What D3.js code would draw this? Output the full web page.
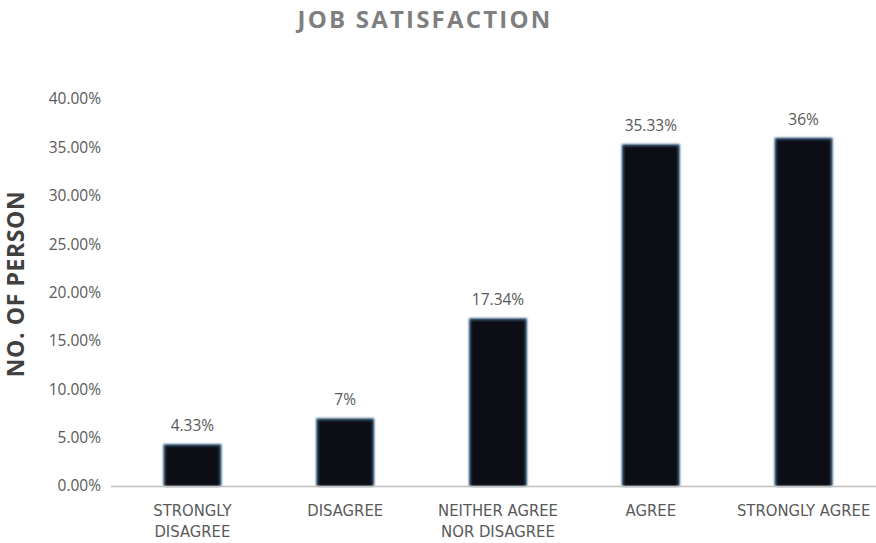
<!DOCTYPE html>
<html>
<head>
<meta charset="utf-8">
<script src="https://cdn.jsdelivr.net/npm/d3@7"></script>
<style>
  html, body { margin: 0; padding: 0; background: #ffffff; }
  svg { display: block; }
</style>
</head>
<body>
<svg id="chart" width="876" height="543"></svg>
<script>
// Job satisfaction survey responses (share of respondents)
const categories = [
  ["STRONGLY", "DISAGREE"],
  ["DISAGREE"],
  ["NEITHER AGREE", "NOR DISAGREE"],
  ["AGREE"],
  ["STRONGLY AGREE"]
];
const values = [4.33, 7, 17.34, 35.33, 36];
const valueLabels = ["4.33%", "7%", "17.34%", "35.33%", "36%"];
const yTicks = [0, 5, 10, 15, 20, 25, 30, 35, 40];

const svg = d3.select("#chart");
const W = 876, H = 543;
const plot = { left: 116, right: 880, top: 99, bottom: 486 };

const keys = categories.map((c, i) => i);
const x = d3.scaleBand().domain(keys).range([plot.left, plot.right]).paddingInner(0.62).paddingOuter(0.31);
const y = d3.scaleLinear().domain([0, 40]).range([plot.bottom, plot.top]);

// soft blue edge on the bars
const defs = svg.append("defs");
const glow = defs.append("filter").attr("id", "edge").attr("x", "-10%").attr("y", "-10%").attr("width", "120%").attr("height", "120%");
glow.append("feGaussianBlur").attr("stdDeviation", 0.9);

// title
svg.append("text")
  .attr("x", 425).attr("y", 28)
  .attr("text-anchor", "middle")
  .attr("font-family", "Open Sans, sans-serif")
  .attr("font-weight", 700)
  .attr("font-size", 24)
  .attr("letter-spacing", 2.2)
  .attr("fill", "#7f7f7f")
  .text("JOB SATISFACTION");

// y axis title
svg.append("text")
  .attr("transform", `translate(24,284) rotate(-90)`)
  .attr("text-anchor", "middle")
  .attr("font-family", "Open Sans, sans-serif")
  .attr("font-weight", 700)
  .attr("font-size", 23)
  .attr("letter-spacing", 0.6)
  .attr("fill", "#404040")
  .text("NO. OF PERSON");

// y axis: labels only
const yAxis = d3.axisLeft(y).tickValues(yTicks).tickSize(0).tickPadding(0)
  .tickFormat(d => d3.format(".2f")(d) + "%");
const gy = svg.append("g").attr("transform", "translate(101,0)").call(yAxis);
gy.select(".domain").remove();
gy.selectAll("text")
  .attr("font-family", "Open Sans, sans-serif")
  .attr("font-size", 15.5)
  .attr("fill", "#595959");

// bars
const bars = svg.append("g");
bars.selectAll("rect.glow")
  .data(values)
  .join("rect")
  .attr("class", "glow")
  .attr("x", (d, i) => x(i))
  .attr("y", d => y(d))
  .attr("width", x.bandwidth())
  .attr("height", d => y(0) - y(d))
  .attr("fill", "#2f5478")
  .attr("filter", "url(#edge)");
bars.selectAll("rect.bar")
  .data(values)
  .join("rect")
  .attr("class", "bar")
  .attr("x", (d, i) => x(i) + 2)
  .attr("y", d => y(d) + 2)
  .attr("width", x.bandwidth() - 4)
  .attr("height", d => Math.max(0, y(0) - y(d) - 2))
  .attr("fill", "#0f1114")
  .attr("filter", "url(#edge)");

// x axis line
svg.append("line")
  .attr("x1", 111).attr("x2", W)
  .attr("y1", y(0) + 0.5).attr("y2", y(0) + 0.5)
  .attr("stroke", "#bfbfbf")
  .attr("stroke-width", 1.3);

// value labels
svg.append("g").selectAll("text")
  .data(values)
  .join("text")
  .attr("x", (d, i) => x(i) + x.bandwidth() / 2)
  .attr("y", d => y(d) - 13)
  .attr("text-anchor", "middle")
  .attr("font-family", "Open Sans, sans-serif")
  .attr("font-size", 15.5)
  .attr("fill", "#595959")
  .text((d, i) => valueLabels[i]);

// category labels
const cat = svg.append("g").selectAll("text")
  .data(categories)
  .join("text")
  .attr("text-anchor", "middle")
  .attr("font-family", "Liberation Sans Narrow, DejaVu Sans Condensed, sans-serif")
  .attr("font-size", 16.5)
  .attr("fill", "#595959");
cat.each(function (lines, i) {
  const t = d3.select(this);
  lines.forEach((ln, j) => {
    t.append("tspan")
      .attr("x", x(i) + x.bandwidth() / 2)
      .attr("y", 516 + j * 21)
      .text(ln);
  });
});
</script>
</body>
</html>
